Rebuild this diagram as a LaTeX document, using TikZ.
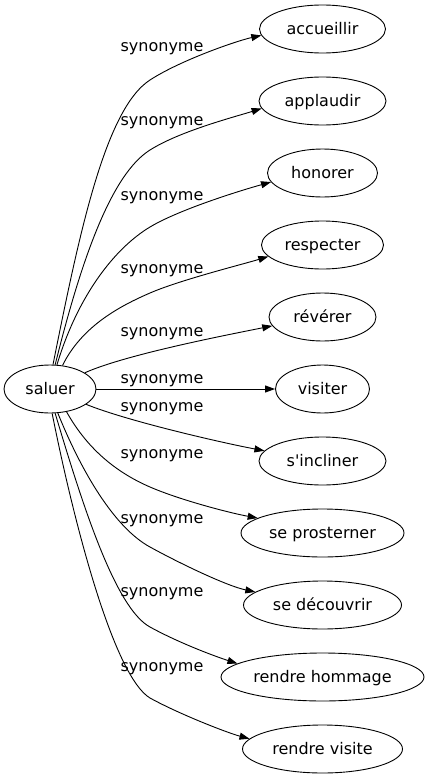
\documentclass[tikz,border=0pt]{standalone}
\usepackage{fontspec}
\setmainfont{DejaVu Sans}[Ligatures=TeXOff]
\usetikzlibrary{arrows.meta,shapes.geometric}
\begin{document}
\begin{tikzpicture}[x=1pt,y=-1pt,
  word/.style={draw, ellipse, line width=0.9pt, minimum height=48pt, inner sep=0pt,
    text height=12pt, text depth=2pt, font=\fontsize{16}{19}\selectfont},
  rel/.style={anchor=base, inner sep=0pt, font=\fontsize{16}{19}\selectfont},
  edge/.style={line width=0.9pt, -{Triangle[length=10pt,width=7pt]}}]
\useasboundingbox (0,0) rectangle (429,779);

\node[word, minimum width=92pt]  (s)  at (50,389)    {saluer};
\node[word, minimum width=126pt] (t1) at (322.5,29)  {accueillir};
\node[word, minimum width=127pt] (t2) at (322.5,101) {applaudir};
\node[word, minimum width=110pt] (t3) at (322.5,173) {honorer};
\node[word, minimum width=122pt] (t4) at (322.5,245) {respecter};
\node[word, minimum width=107pt] (t5) at (322.5,317) {révérer};
\node[word, minimum width=94pt]  (t6) at (322.5,389) {visiter};
\node[word, minimum width=127pt] (t7) at (322.5,461) {s'incliner};
\node[word, minimum width=163pt] (t8) at (322.5,533) {se prosterner};
\node[word, minimum width=158pt] (t9) at (322.5,605) {se découvrir};
\node[word, minimum width=203pt] (t10) at (322.5,677) {rendre hommage};
\node[word, minimum width=160pt] (t11) at (322.5,749) {rendre visite};

\node[rel] (l1)  at (162,51.7)  {synonyme};
\node[rel] (l2)  at (162,125.7) {synonyme};
\node[rel] (l3)  at (162,200)   {synonyme};
\node[rel] (l4)  at (162,273)   {synonyme};
\node[rel] (l5)  at (162,336.7) {synonyme};
\node[rel] (l6)  at (162,383.3) {synonyme};
\node[rel] (l7)  at (162,411.7) {synonyme};
\node[rel] (l8)  at (162,458.3) {synonyme};
\node[rel] (l9)  at (162,523.3) {synonyme};
\node[rel] (l10) at (162,596.7) {synonyme};
\node[rel] (l11) at (162,671.7) {synonyme};

\draw[edge] (s.83) .. controls (79,235) and (105,109) .. (150,80)
  .. controls (180,60.5) and (236,41) .. (t1.186.5);
\draw[edge] (s.78) .. controls (80,265) and (110,175) .. (150,150)
  .. controls (180,131) and (236,116.5) .. (t2.187.5);
\draw[edge] (s.74) .. controls (78,295) and (115,248) .. (150,227)
  .. controls (180,209) and (244,189.5) .. (t3.190);
\draw[edge] (s.62) .. controls (82,326) and (120,306) .. (150,293)
  .. controls (180,280) and (242,264.5) .. (t4.192);
\draw[edge] (s.25) .. controls (127,354) and (232,334) .. (t5.190);
\draw[edge] (s.east) -- (t6.west);
\draw[edge] (s.337) .. controls (127,421) and (223,443) .. (t7.170);
\draw[edge] (s.306.5) .. controls (89,452) and (120,474) .. (150,487)
  .. controls (180,500) and (230,513) .. (t8.167);
\draw[edge] (s.288) .. controls (82,473) and (115,528) .. (150,547)
  .. controls (180,563.5) and (227,586) .. (t9.169.5);
\draw[edge] (s.282) .. controls (82,503) and (115,608) .. (150,627)
  .. controls (180,643.5) and (217,657) .. (t10.171);
\draw[edge] (s.275) .. controls (76,533) and (115,677) .. (150,698)
  .. controls (180,714.5) and (228,733) .. (t11.172);
\end{tikzpicture}
\end{document}
